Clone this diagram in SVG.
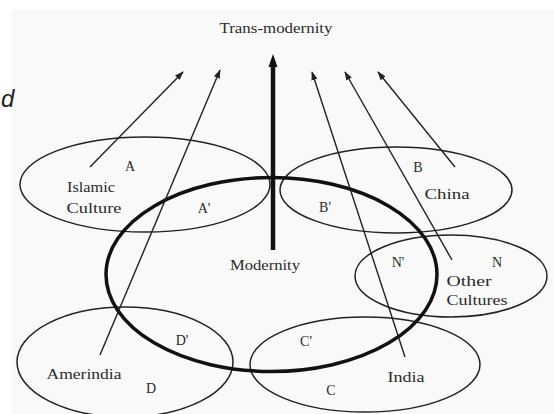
<svg xmlns="http://www.w3.org/2000/svg" width="554" height="414" viewBox="0 0 554 414">
<defs>
<style>
.e{fill:none;stroke:#222;stroke-width:1.5}
.m{fill:none;stroke:#111;stroke-width:3.5}
.t{font-family:"Liberation Serif","Times New Roman",serif;font-size:14px;fill:#2a2a2a;text-anchor:middle}
.c{stroke:#222;stroke-width:1.4;fill:none;marker-end:url(#ah)}
</style>
<marker id="ah" viewBox="0 0 10 7" refX="9" refY="3.5" markerWidth="6.5" markerHeight="4.5" orient="auto" markerUnits="strokeWidth">
<path d="M0,0 L10,3.5 L0,7 z" fill="#222"/>
</marker>
</defs>
<rect x="0" y="0" width="554" height="414" fill="#ffffff"/>
<rect x="12" y="10" width="542" height="404" fill="#f9f9f9"/>
<text x="1" y="107" font-family="Liberation Sans, Arial, sans-serif" font-style="italic" font-size="24" fill="#222">d</text>

<g id="transmodernity">
<text class="t" x="276" y="33" textLength="113" lengthAdjust="spacingAndGlyphs">Trans-modernity</text>
</g>

<g id="islamic">
<ellipse class="e" cx="145" cy="184.5" rx="125" ry="47.5"/>
<text class="t" x="130" y="171">A</text>
<text class="t" x="91" y="192" textLength="48" lengthAdjust="spacingAndGlyphs">Islamic</text>
<text class="t" x="94" y="213" textLength="55" lengthAdjust="spacingAndGlyphs">Culture</text>
<text class="t" x="204" y="213">A'</text>
</g>

<g id="china">
<ellipse class="e" cx="396" cy="190" rx="116" ry="43"/>
<text class="t" x="418" y="172">B</text>
<text class="t" x="447" y="199" textLength="45" lengthAdjust="spacingAndGlyphs">China</text>
<text class="t" x="325" y="212">B'</text>
</g>

<g id="other">
<ellipse class="e" cx="451" cy="276" rx="96" ry="41"/>
<text class="t" x="398" y="267">N'</text>
<text class="t" x="497" y="267">N</text>
<text class="t" x="469" y="286" textLength="45" lengthAdjust="spacingAndGlyphs">Other</text>
<text class="t" x="477" y="305" textLength="61" lengthAdjust="spacingAndGlyphs">Cultures</text>
</g>

<g id="india">
<ellipse class="e" cx="365" cy="364.5" rx="115" ry="47.5"/>
<text class="t" x="306" y="346">C'</text>
<text class="t" x="331" y="395">C</text>
<text class="t" x="406" y="382" textLength="37" lengthAdjust="spacingAndGlyphs">India</text>
</g>

<g id="amerindia">
<ellipse class="e" cx="125" cy="362" rx="108" ry="55"/>
<text class="t" x="182" y="345">D'</text>
<text class="t" x="84" y="379" textLength="75" lengthAdjust="spacingAndGlyphs">Amerindia</text>
<text class="t" x="151" y="393">D</text>
</g>

<g id="modernity">
<ellipse class="m" cx="271.5" cy="274.5" rx="165.5" ry="97"/>
<text class="t" x="265" y="270" textLength="70" lengthAdjust="spacingAndGlyphs">Modernity</text>
</g>

<g id="connectors">
<line x1="273" y1="250" x2="273" y2="64" stroke="#111" stroke-width="4.5"/>
<path d="M273,54 L277.5,67 L268.5,67 z" fill="#111"/>
<line class="c" x1="90" y1="167" x2="183" y2="72"/>
<line class="c" x1="100" y1="355" x2="220" y2="70"/>
<line class="c" x1="405" y1="357" x2="312" y2="72"/>
<line class="c" x1="452" y1="260" x2="345" y2="72"/>
<line class="c" x1="455" y1="167" x2="378" y2="72"/>
</g>
</svg>
